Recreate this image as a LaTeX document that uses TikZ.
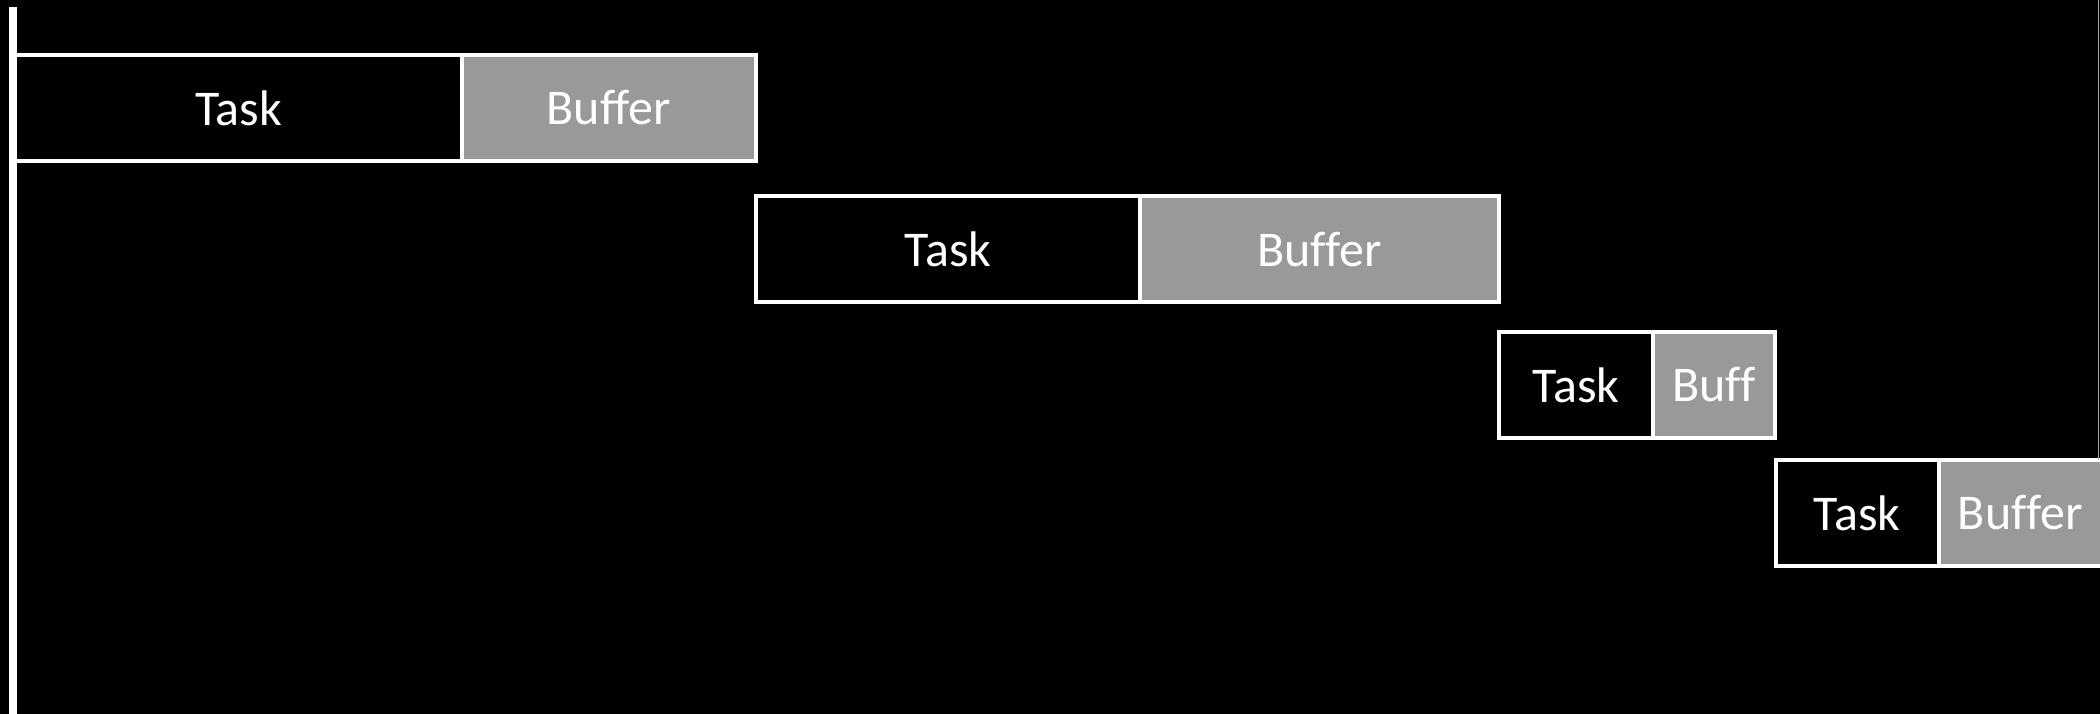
\documentclass[tikz,border=0pt]{standalone}
\usepackage{fontspec}
\setmainfont[Ligatures=NoCommon]{Carlito}
\definecolor{bufgrey}{RGB}{153,153,153}
\definecolor{edgegrey}{RGB}{170,170,170}
\begin{document}
\begin{tikzpicture}[x=1pt,y=-1pt,
  box/.style={draw=white, line width=4pt, rectangle, inner sep=0pt, outer sep=0pt,
    text=white, font=\fontsize{50}{60}\selectfont},
  taskbox/.style={box, fill=black},
  bufbox/.style={box, fill=bufgrey},
  axis/.style={draw=white, line width=8pt},
  edge/.style={draw=edgegrey, line width=1.5pt}]
\fill[black] (0,0) rectangle (2100,714);
\useasboundingbox (0,0) rectangle (2100,714);
% row 1
\node[taskbox, minimum width=447pt, minimum height=106pt] (t1) at (238.5,108) {Task};
\node[bufbox, minimum width=294pt, minimum height=106pt] (b1) at (609,108) {Buffer};
% row 2
\node[taskbox, minimum width=384pt, minimum height=105.5pt] (t2) at (948,249.25) {Task};
\node[bufbox, minimum width=359pt, minimum height=105.5pt] (b2) at (1319.5,249.25) {Buffer};
% row 3
\node[taskbox, minimum width=154pt, minimum height=106pt] (t3) at (1576,385) {Task};
\node[bufbox, minimum width=122pt, minimum height=106pt] (b3) at (1714,385) {Buff};
% row 4
\node[taskbox, minimum width=162.5pt, minimum height=106pt] (t4) at (1857.25,513) {Task};
\node[bufbox, minimum width=163.5pt, minimum height=106pt] (b4) at (2020.25,513) {Buffer};
% axis line at left
\coordinate (atop) at (13,7);
\coordinate (abot) at (13,714);
\draw[axis] (atop) -- (abot);
% thin edge at right
\coordinate (etop) at (2098.5,0);
\draw[edge] (etop) -- (etop |- b4.north);
\end{tikzpicture}
\end{document}
